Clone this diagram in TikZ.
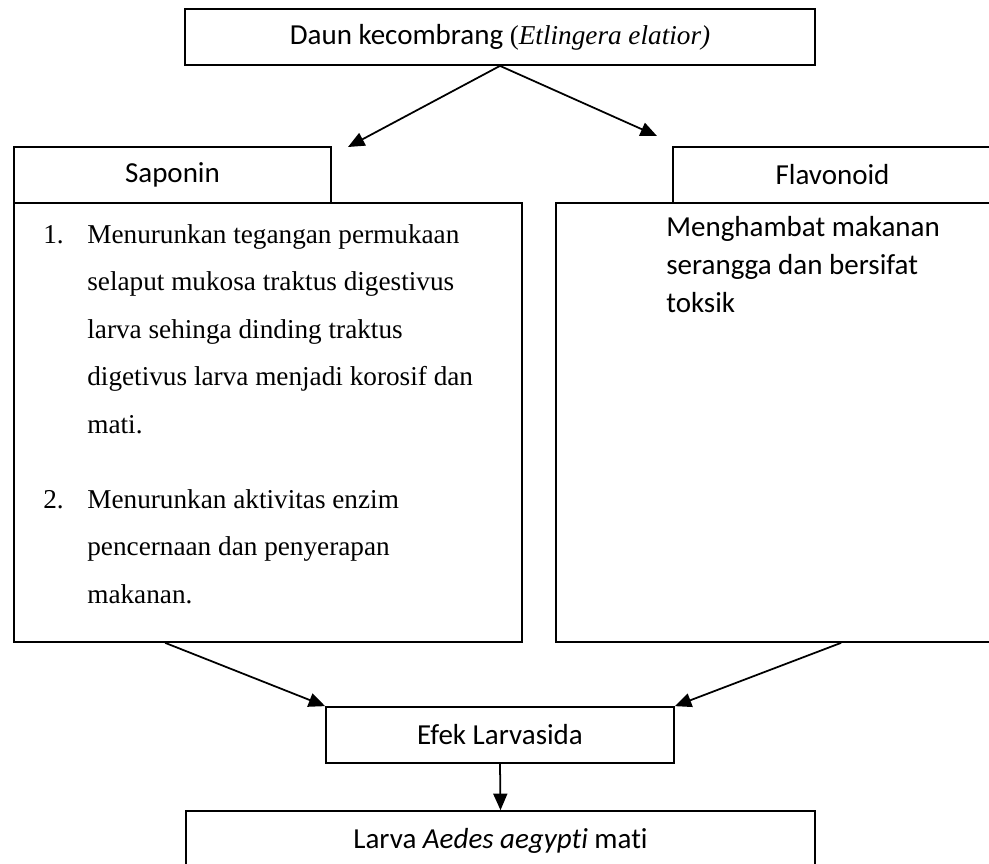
\documentclass[tikz,border=0pt]{standalone}
\usepackage{fontspec}
\setmainfont{Liberation Serif}
\newfontfamily\carlito[Ligatures=NoCommon]{Carlito}
\usetikzlibrary{arrows.meta, positioning}

\begin{document}
\begin{tikzpicture}[x=0.02cm, y=-0.02cm,
        kotak/.style={draw, line width=1pt, inner sep=0pt, font=\carlito\fontsize{16.5}{20}\selectfont},
        isi/.style={inner sep=0pt, align=left},
        panah/.style={-{Triangle[length=0.33cm, width=0.28cm]}, line width=1pt}]
        \clip (0,0) rectangle (989,863);
        % Kotak atas
        \node[kotak, minimum width=12.6cm, minimum height=1.12cm] (daun) at (500,37)
            {Daun kecombrang {\fontsize{15.5}{18}\rmfamily(\textit{Etlingera elatior)}}};
        % Saponin
        \node[kotak, minimum width=10.16cm, minimum height=8.78cm] (sapBody) at (268,422.5) {};
        \node[kotak, minimum width=6.34cm, minimum height=1.12cm] (sapHead) at (172.5,175) {Saponin};
        % Flavonoid
        \node[kotak, minimum width=8.72cm, minimum height=8.78cm] (flavBody) at (774,422.5) {};
        \node[kotak, minimum width=6.38cm, minimum height=1.12cm] (flavHead) at (832.5,175) {Flavonoid};
        % Teks isi
        \node[isi, anchor=north west, font=\fontsize{15.5}{27}\selectfont] (sapText) at (43,224)
            {\makebox[0.88cm][l]{1.}Menurunkan tegangan permukaan\\
             \hspace*{0.88cm}selaput mukosa traktus digestivus\\
             \hspace*{0.88cm}larva sehinga dinding traktus\\
             \hspace*{0.88cm}digetivus larva menjadi korosif dan\\
             \hspace*{0.88cm}mati.\\[0.56cm]
             \makebox[0.88cm][l]{2.}Menurunkan aktivitas enzim\\
             \hspace*{0.88cm}pencernaan dan penyerapan\\
             \hspace*{0.88cm}makanan.};
        \node[isi, anchor=north west, font=\carlito\fontsize{16.5}{21.6}\selectfont] (flavText) at (666,216)
            {Menghambat makanan\\serangga dan bersifat\\toksik};
        % Kotak bawah
        \node[kotak, minimum width=6.96cm, minimum height=1.12cm] (efek) at (500,735) {Efek Larvasida};
        \node[kotak, minimum width=12.58cm, minimum height=1.18cm] (larva) at (500.5,840.5)
            {Larva \textit{Aedes aegypti} mati};
        % Panah
        \coordinate (ujungKiri) at (348,147);
        \coordinate (ujungKanan) at (657,136);
        \coordinate (pangkalKiri) at ([xshift=3.04cm]sapBody.south west);
        \coordinate (pangkalKanan) at ([xshift=5.72cm]flavBody.south west);
        \draw[panah] (daun.south) -- (ujungKiri);
        \draw[panah] (daun.south) -- (ujungKanan);
        \draw[panah] (pangkalKiri) -- (efek.north west);
        \draw[panah] (pangkalKanan) -- (efek.north east);
        \draw[panah] (efek.south) -- (larva.north);
    \end{tikzpicture}
\end{document}
